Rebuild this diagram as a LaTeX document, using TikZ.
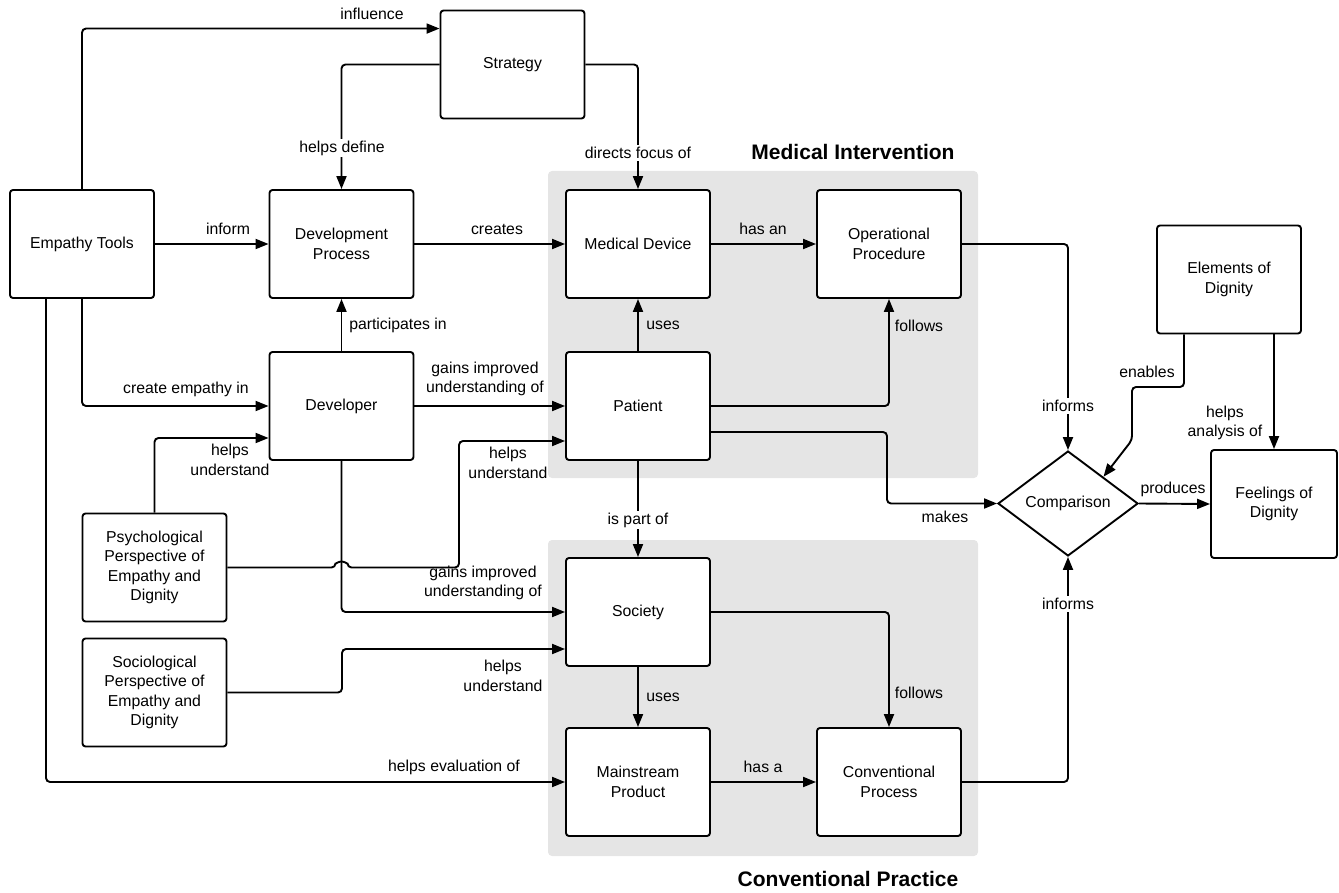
\documentclass[tikz,border=0pt]{standalone}
\usepackage{fontspec}
\setmainfont{Liberation Sans}
\usetikzlibrary{shapes.geometric,arrows.meta}
\begin{document}
\begin{tikzpicture}[x=1pt,y=-1pt,
  box/.style={draw, line width=1.9pt, rounded corners=3pt, fill=white, minimum width=144pt, minimum height=108pt, align=center, inner sep=2pt, font=\fontsize{15.8}{19.5}\selectfont},
  arr/.style={line width=1.9pt, rounded corners=4pt, -{Triangle[length=13pt,width=10pt]}},
  lbl/.style={font=\fontsize{15.8}{19.5}\selectfont, align=center, inner sep=1pt},
  lblw/.style={lbl, fill=white, inner sep=2pt},
  grp/.style={fill=black!10, rounded corners=4pt},
  ttl/.style={font=\bfseries\fontsize{21}{24}\selectfont}]
\path[use as bounding box] (0,0) rectangle (1339,893);
% group backgrounds
\fill[grp] (548,171) rectangle (978,478);
\fill[grp] (548,540) rectangle (978,856);
\node[ttl] (t1) at (853,152) {Medical Intervention};
\node[ttl] (t2) at (848,879) {Conventional Practice};
% boxes
\node[box] (et) at (82,244) {Empathy Tools};
\node[box] (dp) at (341.5,244) {Development\\Process};
\node[box] (st) at (512.5,64.5) {Strategy};
\node[box] (md) at (638,244) {Medical Device};
\node[box] (op) at (889,244) {Operational\\Procedure};
\node[box] (dv) at (341.5,406) {Developer};
\node[box] (pt) at (638,406) {Patient};
\node[box] (psy) at (154.5,567.5) {Psychological\\Perspective of\\Empathy and\\Dignity};
\node[box] (soc) at (154.5,692.5) {Sociological\\Perspective of\\Empathy and\\Dignity};
\node[box] (so) at (638,612) {Society};
\node[box] (mp) at (638,782) {Mainstream\\Product};
\node[box] (cp) at (889,782) {Conventional\\Process};
\node[box] (ed) at (1229,279.5) {Elements of\\Dignity};
\node[box, minimum width=126pt] (fd) at (1274,504) {Feelings of\\Dignity};
\node[draw, diamond, line width=1.9pt, minimum width=140pt, minimum height=105pt, inner sep=0pt, fill=white, font=\fontsize{15.8}{19.5}\selectfont] (cmp) at (1068,503.5) {Comparison};
% connectors
\draw[arr] (et.north) |- ([yshift=-19pt]st.north west);
\draw[arr] (st.west) -| (dp.north);
\draw[arr] (st.east) -| (md.north);
\draw[arr] (et.east) -- (dp.west);
\draw[arr] (dp.east) -- (md.west);
\draw[arr] (md.east) -- (op.west);
\draw[arr] (pt.north) -- (md.south);
\draw[arr] (dv.north) -- (dp.south);
\draw[arr] (et.south) |- (dv.west);
\draw[arr] (dv.east) -- (pt.west);
\draw[arr] (pt.east) -| (op.south);
\draw[arr] (psy.north) |- ([yshift=-32pt]dv.west);
\draw[arr] (psy.east) -- (335.5,567.5) arc[start angle=180,end angle=0,radius=6pt] -- (459,567.5) -- (459,441) -- ([yshift=-35pt]pt.west);
\draw[arr] (dv.south) |- (so.west);
\draw[arr] (pt.south) -- (so.north);
\draw[arr] (soc.east) -- (342,692.5) -- (342,649) -- ([yshift=-37pt]so.west);
\draw[arr] ([xshift=-36pt]et.south) |- (mp.west);
\draw[arr] (so.south) -- (mp.north);
\draw[arr] (so.east) -| (cp.north);
\draw[arr] (mp.east) -- (cp.west);
\draw[arr] (cp.east) -| (cmp.south);
\draw[arr] (op.east) -| (cmp.north);
\draw[arr] ([yshift=-26pt]pt.east) -| (887,470) |- (cmp.west);
\draw[arr] (cmp.east) -- (fd.west);
\draw[arr] ([xshift=-45pt]ed.south) -- (1184,387) -- (1132,387) -- (1132,440) -- (cmp.north east);
\draw[arr] (fd.north |- ed.south) -- (fd.north);
% labels
\node[lbl] (l1) at (372,14) {influence};
\node[lblw] (l2) at (342,148) {helps define};
\node[lblw] (l3) at (638,153) {directs focus of};
\node[lbl] (l4) at (228,229) {inform};
\node[lbl] (l5) at (497,229) {creates};
\node[lbl] (l6) at (763,229) {has an};
\node[lbl] (l7) at (663,325) {uses};
\node[lbl] (l8) at (398,325) {participates in};
\node[lbl] (l9) at (919,326) {follows};
\node[lbl] (l10) at (186,389) {create empathy in};
\node[lbl] (l11) at (485,379) {gains improved\\understanding of};
\node[lbl] (l12) at (230,460) {helps\\understand};
\node[lbl] (l13) at (508,463) {helps\\understand};
\node[lblw] (l14) at (1068,406) {informs};
\node[lbl] (l15) at (1147,372) {enables};
\node[lbl] (l16) at (1225,423) {helps\\analysis of};
\node[lbl] (l17) at (945,517) {makes};
\node[lbl] (l18) at (1173,489) {produces};
\node[lblw] (l19) at (638,520) {is part of};
\node[lbl] (l20) at (483,583) {gains improved\\understanding of};
\node[lblw] (l21) at (1068,604) {informs};
\node[lbl] (l22) at (503,676) {helps\\understand};
\node[lbl] (l23) at (663,697) {uses};
\node[lbl] (l24) at (919,693) {follows};
\node[lbl] (l25) at (454,767) {helps evaluation of};
\node[lbl] (l26) at (763,767) {has a};
\end{tikzpicture}
\end{document}
